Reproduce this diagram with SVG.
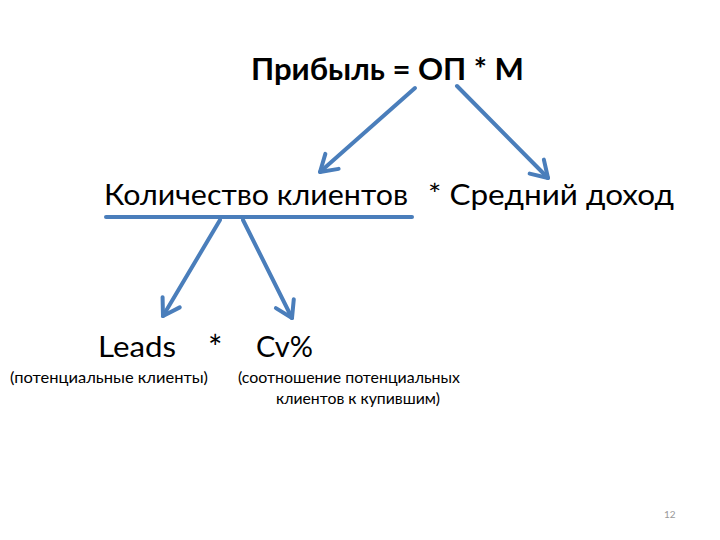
<svg xmlns="http://www.w3.org/2000/svg" width="720" height="540" viewBox="0 0 720 540">
<style>
text{font-family:Lato,"Open Sans","Noto Sans",sans-serif;fill:#000}
.big{font-size:29px}
.small{font-size:16px}
.conn{stroke:#4A7EBB;stroke-width:4;fill:none;stroke-linecap:round}
</style>
<defs>
<marker id="ah" markerUnits="userSpaceOnUse" markerWidth="30" markerHeight="30" refX="22" refY="12" orient="auto" viewBox="0 0 30 24">
<path d="M6,2 L22,12 L6,22" fill="none" stroke="#4A7EBB" stroke-width="4" stroke-linecap="round" stroke-linejoin="round"/>
</marker>
</defs>
<rect width="720" height="540" fill="#fff"/>
<g id="title"><text x="251" y="80" font-size="30" font-weight="bold" textLength="273" lengthAdjust="spacingAndGlyphs">Прибыль = ОП * М</text></g>
<g id="clients"><text class="big" x="104" y="205" textLength="304" lengthAdjust="spacingAndGlyphs">Количество клиентов</text></g>
<g id="income"><text class="big" x="428" y="205" textLength="246" lengthAdjust="spacingAndGlyphs">* Средний доход</text></g>
<g id="leads"><text class="big" x="98" y="357" textLength="78" lengthAdjust="spacingAndGlyphs">Leads</text>
<text class="small" x="10" y="383" textLength="198" lengthAdjust="spacingAndGlyphs">(потенциальные клиенты)</text></g>
<g id="mult"><text x="208" y="360" font-size="34">*</text></g>
<g id="cv"><text class="big" x="256" y="357" textLength="57" lengthAdjust="spacingAndGlyphs">Cv%</text>
<text class="small" x="238" y="383" textLength="222" lengthAdjust="spacingAndGlyphs">(соотношение потенциальных</text>
<text class="small" x="276" y="404" textLength="164" lengthAdjust="spacingAndGlyphs">клиентов к купившим)</text></g>
<g id="page"><text x="664" y="518" font-size="10" style="fill:#999999">12</text></g>
<g id="connectors">
<line class="conn" x1="106" y1="217" x2="412" y2="217" stroke-width="3"/>
<line class="conn" x1="415" y1="88" x2="320" y2="172" marker-end="url(#ah)"/>
<line class="conn" x1="457" y1="86" x2="548" y2="178" marker-end="url(#ah)"/>
<line class="conn" x1="220" y1="220" x2="163" y2="316" marker-end="url(#ah)"/>
<line class="conn" x1="243" y1="220" x2="292" y2="318" marker-end="url(#ah)"/>
</g>
</svg>
